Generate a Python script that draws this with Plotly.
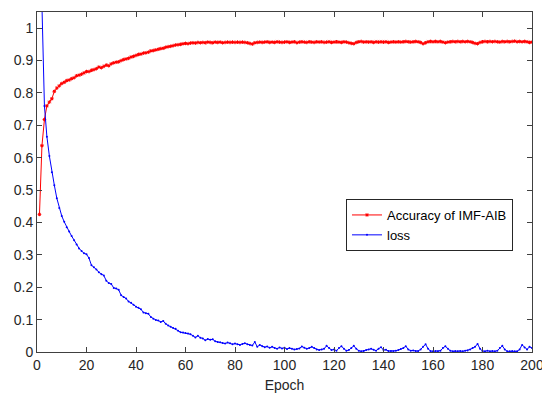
import plotly.graph_objects as go

epochs = list(range(1, 201))

accuracy = [
    0.425, 0.637, 0.718, 0.760, 0.772, 0.782, 0.805, 0.815, 0.822, 0.829,
    0.833, 0.838, 0.840, 0.844, 0.847, 0.853, 0.855, 0.858, 0.862, 0.866,
    0.866, 0.870, 0.872, 0.875, 0.880, 0.878, 0.882, 0.886, 0.884, 0.890,
    0.893, 0.895, 0.896, 0.900, 0.903, 0.905, 0.907, 0.911, 0.913, 0.916,
    0.919, 0.920, 0.923, 0.924, 0.926, 0.930, 0.931, 0.933, 0.935, 0.937,
    0.938, 0.941, 0.943, 0.944, 0.946, 0.948, 0.949, 0.950, 0.952, 0.953,
    0.952, 0.954, 0.955, 0.954, 0.956, 0.955, 0.956, 0.955, 0.957, 0.956,
    0.955, 0.957, 0.956, 0.957, 0.955, 0.956, 0.957, 0.956, 0.957, 0.956,
    0.957, 0.956, 0.957, 0.956, 0.955, 0.953, 0.951, 0.955, 0.956, 0.957,
    0.956, 0.957, 0.958, 0.956, 0.957, 0.956, 0.958, 0.957, 0.956, 0.957,
    0.958, 0.956, 0.957, 0.958, 0.955, 0.957, 0.958, 0.957, 0.956, 0.958,
    0.957, 0.956, 0.958, 0.957, 0.958, 0.956, 0.957, 0.958, 0.956, 0.957,
    0.958, 0.957, 0.956, 0.958, 0.957, 0.955, 0.953, 0.952, 0.956, 0.958,
    0.959, 0.957, 0.958, 0.957, 0.958, 0.956, 0.958, 0.957, 0.958, 0.957,
    0.958, 0.956, 0.957, 0.958, 0.957, 0.958, 0.957, 0.958, 0.959, 0.958,
    0.957, 0.958, 0.959, 0.958, 0.956, 0.952, 0.955, 0.958, 0.959, 0.958,
    0.959, 0.958, 0.959, 0.957, 0.955, 0.957, 0.958, 0.959, 0.958, 0.959,
    0.958, 0.959, 0.958, 0.959, 0.958, 0.956, 0.953, 0.952, 0.956, 0.958,
    0.959, 0.958, 0.959, 0.958, 0.959, 0.958, 0.957, 0.959, 0.958, 0.959,
    0.958, 0.959, 0.960, 0.958, 0.959, 0.958, 0.959, 0.958, 0.956, 0.957,
]

loss = [
    1.600, 1.070, 0.760, 0.665, 0.605, 0.555, 0.515, 0.475, 0.445, 0.420,
    0.402, 0.385, 0.372, 0.358, 0.345, 0.332, 0.320, 0.312, 0.305, 0.302,
    0.290, 0.268, 0.262, 0.255, 0.246, 0.240, 0.236, 0.220, 0.213, 0.210,
    0.198, 0.196, 0.192, 0.175, 0.170, 0.165, 0.156, 0.152, 0.146, 0.140,
    0.137, 0.132, 0.122, 0.120, 0.118, 0.108, 0.103, 0.099, 0.097, 0.093,
    0.096, 0.087, 0.082, 0.078, 0.074, 0.072, 0.066, 0.061, 0.060, 0.059,
    0.057, 0.055, 0.050, 0.045, 0.050, 0.044, 0.042, 0.036, 0.040, 0.038,
    0.039, 0.033, 0.031, 0.030, 0.028, 0.026, 0.029, 0.027, 0.024, 0.026,
    0.024, 0.022, 0.025, 0.027, 0.024, 0.022, 0.020, 0.031, 0.016, 0.022,
    0.018, 0.015, 0.017, 0.013, 0.016, 0.012, 0.010, 0.014, 0.011, 0.013,
    0.009, 0.012, 0.010, 0.008, 0.009, 0.011, 0.017, 0.013, 0.010, 0.012,
    0.016, 0.012, 0.008, 0.006, 0.008, 0.010, 0.019, 0.012, 0.006, 0.008,
    0.004, 0.012, 0.018, 0.010, 0.004, 0.006, 0.012, 0.019, 0.010, 0.004,
    0.002, 0.003, 0.006, 0.008, 0.010, 0.007, 0.004, 0.010, 0.015, 0.006,
    0.007, 0.003, 0.003, 0.002, 0.004, 0.006, 0.009, 0.012, 0.018, 0.008,
    0.004, 0.005, 0.003, 0.003, 0.008, 0.016, 0.024, 0.010, 0.003, 0.002,
    0.003, 0.002, 0.004, 0.012, 0.018, 0.010, 0.004, 0.002, 0.003, 0.002,
    0.003, 0.002, 0.004, 0.005, 0.008, 0.012, 0.016, 0.025, 0.010, 0.003,
    0.002, 0.004, 0.002, 0.003, 0.002, 0.004, 0.012, 0.019, 0.008, 0.002,
    0.002, 0.003, 0.002, 0.002, 0.008, 0.022, 0.014, 0.008, 0.016, 0.012,
]

x_ticks = list(range(0, 201, 20))
y_ticks = [0, 0.1, 0.2, 0.3, 0.4, 0.5, 0.6, 0.7, 0.8, 0.9, 1.0]
y_tick_labels = ["0", "0.1", "0.2", "0.3", "0.4", "0.5", "0.6", "0.7", "0.8", "0.9", "1"]

fig = go.Figure()
fig.add_trace(go.Scatter(
    x=epochs, y=accuracy, mode="lines+markers", name="Accuracy of IMF-AIB",
    line=dict(color="#ff0000", width=1),
    marker=dict(symbol="asterisk", size=3, color="#ff0000",
                line=dict(color="#ff0000", width=1)),
))
fig.add_trace(go.Scatter(
    x=epochs, y=loss, mode="lines+markers", name="loss",
    line=dict(color="#0000ff", width=1),
    marker=dict(symbol="circle", size=2, color="#0000ff"),
))

axis_common = dict(
    showline=True, mirror="ticks", linecolor="#404040", linewidth=1,
    ticks="inside", ticklen=5, tickcolor="#404040", tickwidth=1,
    showgrid=False, zeroline=False,
    tickfont=dict(family="Arial, Liberation Sans", size=14, color="#262626"),
)

# the page body adds an 8px offset, so the figure is sized to fit inside it
fig.update_layout(
    width=542, height=391,
    margin=dict(l=29, r=18, t=4, b=47),
    paper_bgcolor="white", plot_bgcolor="white",
    font=dict(family="Arial, Liberation Sans", size=13, color="#262626"),
    xaxis=dict(range=[0, 200], tickvals=x_ticks,
               title=dict(text="Epoch", font=dict(size=14), standoff=8),
               **axis_common),
    yaxis=dict(range=[0, 1.05], tickvals=y_ticks, ticktext=y_tick_labels,
               **axis_common),
    legend=dict(x=0.9616, y=0.45, xanchor="right", yanchor="top",
                bgcolor="white", bordercolor="#262626", borderwidth=1,
                font=dict(size=13, color="#000000"),
                tracegroupgap=0, itemwidth=30),
    showlegend=True,
)

fig.write_html("out.html")
